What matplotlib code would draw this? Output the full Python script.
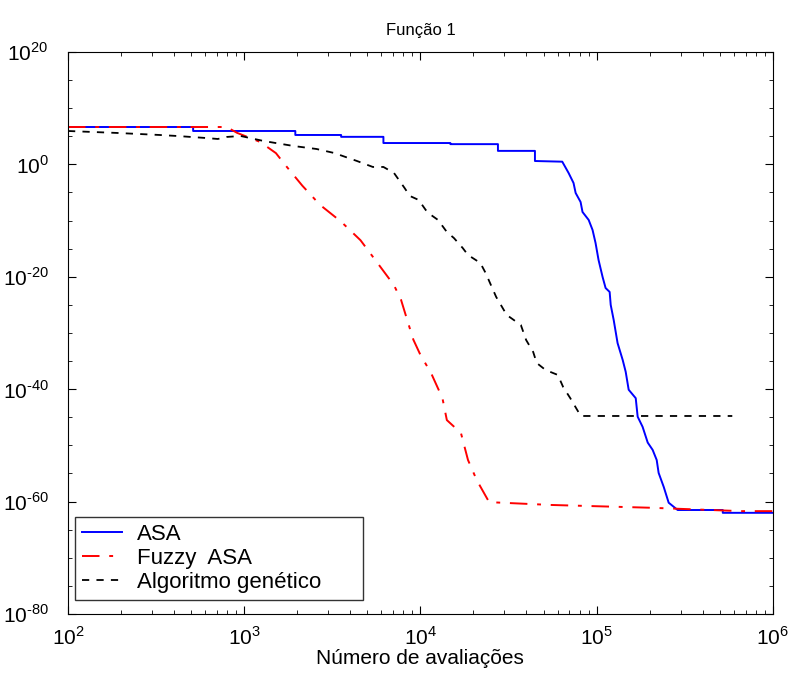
import numpy as np
import matplotlib.pyplot as plt
from matplotlib.ticker import FixedLocator, NullFormatter, FuncFormatter

plt.rcParams['font.family'] = ['Liberation Sans', 'DejaVu Sans']
plt.rcParams['mathtext.fontset'] = 'custom'
plt.rcParams['mathtext.rm'] = 'Liberation Sans'

# values given as log10 exponents (x = evaluations, y = objective)
asa_x = [2.0, 2.71, 2.71, 3.29, 3.29, 3.55, 3.55, 3.79, 3.79, 4.17, 4.17, 4.44, 4.44,
         4.65, 4.65, 4.805, 4.841, 4.869, 4.881, 4.909, 4.920, 4.955, 4.977, 4.994,
         5.011, 5.034, 5.051, 5.074, 5.080, 5.097, 5.119, 5.148, 5.165, 5.182, 5.222,
         5.233, 5.261, 5.290, 5.318, 5.341, 5.352, 5.381, 5.409, 5.460, 5.716, 5.716,
         6.0]
asa_y = [6.65, 6.65, 5.94, 5.94, 5.23, 5.23, 4.9, 4.9, 3.8, 3.8, 3.6, 3.6, 2.4,
         2.4, 0.6, 0.48, -1.53, -3.31, -5.09, -6.69, -8.47, -9.89, -11.67, -13.99,
         -17.01, -20.04, -22.0, -22.7, -25.0, -27.7, -31.8, -34.8, -36.9, -40.1, -41.6,
         -44.9, -46.7, -49.5, -50.8, -52.6, -54.9, -57.4, -60.2, -61.5, -61.5, -62.0,
         -62.0]

fuzzy_x = [2.0, 2.90, 2.96, 3.09, 3.18, 3.23, 3.33, 3.43, 3.55, 3.66, 3.76, 3.85,
           3.89, 3.93, 3.96, 4.0, 4.06, 4.125, 4.15, 4.23, 4.27, 4.32, 4.39, 4.74,
           5.31, 5.82, 6.0]
fuzzy_y = [6.65, 6.65, 5.6, 4.0, 2.0, 0.0, -3.8, -7.2, -10.2, -13.5, -17.7, -21.5,
           -24.1, -28.2, -31.2, -33.9, -37.1, -41.6, -45.5, -47.8, -52.6, -56.2, -60.1,
           -60.6, -61.1, -61.7, -61.7]

ga_x = [2.0, 2.28, 2.52, 2.62, 2.78, 2.85, 2.90, 2.98, 3.11, 3.28, 3.41, 3.51,
        3.64, 3.73, 3.79, 3.85, 3.91, 3.94, 3.99, 4.03, 4.06, 4.10, 4.15, 4.19,
        4.24, 4.27, 4.34, 4.37, 4.40, 4.43, 4.45, 4.49, 4.57, 4.60, 4.64, 4.66,
        4.71, 4.78, 4.81, 4.85, 4.91, 5.77]
ga_y = [5.94, 5.59, 5.23, 5.05, 4.7, 4.52, 4.88, 5.05, 4.16, 3.27, 2.74, 2.03,
        0.6, -0.46, -0.46, -1.53, -4.2, -5.62, -6.33, -8.11, -9.0, -9.89, -12.03, -13.1,
        -14.88, -16.12, -17.54, -19.32, -21.46, -23.59, -24.66, -26.8, -28.58, -31.25,
        -33.38, -35.34, -36.58, -37.47, -39.61, -41.57, -44.77, -44.77]


def pow_label(v, pos):
    e = int(round(np.log10(v)))
    return r'$10^{\text{%d}}$' % e


fig = plt.figure(figsize=(7.91, 6.75), dpi=100)
ax = fig.add_axes([0.086, 0.0904, 0.891, 0.8326])

ax.plot(10.0**np.array(asa_x), 10.0**np.array(asa_y), color='blue', lw=1.4,
        label='ASA')
ax.plot(10.0**np.array(fuzzy_x), 10.0**np.array(fuzzy_y), color='red', lw=1.4,
        linestyle=(0, (9, 5, 2, 5)), label='Fuzzy  ASA')
ax.plot(10.0**np.array(ga_x), 10.0**np.array(ga_y), color='black', lw=1.3,
        linestyle=(0, (4, 4)), label='Algoritmo genético')

ax.set_xscale('log')
ax.set_yscale('log')
ax.set_xlim(1e2, 1e6)
ax.set_ylim(1e-80, 1e20)

ax.yaxis.set_major_locator(FixedLocator([10.0**k for k in range(-80, 21, 20)]))
ax.yaxis.set_minor_locator(FixedLocator([10.0**k for k in range(-80, 21, 5)]))
ax.yaxis.set_minor_formatter(NullFormatter())
ax.yaxis.set_major_formatter(FuncFormatter(pow_label))
ax.xaxis.set_major_formatter(FuncFormatter(pow_label))

ax.tick_params(which='both', direction='in', top=True, right=True, labelsize=15)
ax.tick_params(which='major', length=6)
ax.tick_params(which='minor', length=3)
ax.tick_params(axis='x', pad=9)
ax.tick_params(axis='y', pad=14)

ax.set_title('Função 1', fontsize=12, pad=12)
ax.set_xlabel('Número de avaliações', fontsize=15, labelpad=0)

leg = ax.legend(loc='lower left', bbox_to_anchor=(0.0099, 0.025, 0.408, 0.149),
                mode='expand', fontsize=16,
                frameon=True, fancybox=False, edgecolor='black',
                handlelength=1.8, handletextpad=0.7, borderpad=0.3,
                labelspacing=0.15, borderaxespad=0)
leg.get_frame().set_linewidth(1.0)

fig.savefig('out.png', dpi=100)
